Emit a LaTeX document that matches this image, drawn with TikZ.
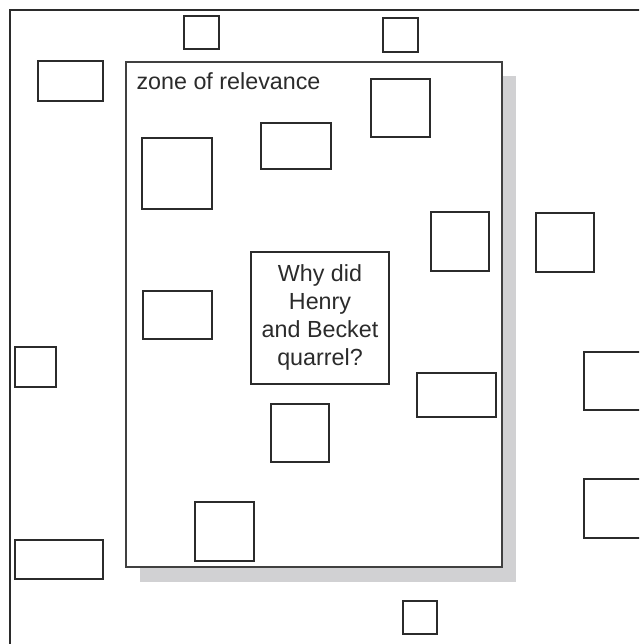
\documentclass[tikz,border=0pt]{standalone}
\usepackage{fontspec}
\setmainfont{Liberation Sans}
\usetikzlibrary{fit}
\definecolor{ink}{HTML}{2B2B2B}
\definecolor{shadowgray}{HTML}{D1D1D3}
\tikzset{
  card/.style={draw=ink, line width=1.6pt, inner sep=0pt, fill=white},
  zone/.style={draw=ink!90, line width=1.2pt, fill=white},
  question/.style={draw=ink, line width=1.9pt, inner sep=0pt, fill=white},
  label/.style={font=\fontsize{23.3}{28}\selectfont, text=ink}
}
\begin{document}
\begin{tikzpicture}[x=1pt, y=-1pt]
\clip (0,0) rectangle (639,644);
\fill[white] (0,0) rectangle (639,644);
% outer frame (runs past the right and bottom edges)
\draw[draw=ink, line width=1.2pt] (10,670) -- (10,10) -- (670,10);
% zone of relevance with its drop shadow
\fill[shadowgray] (140,76) rectangle (516,582);
\node[zone, inner sep=0pt, fit={(126,62)(502,567)}] (zone) {};
\node[label, anchor=base west] (zonelabel) at (133,90) {zone of relevance};
% the central question
\node[question, fit={(251,252)(389,384)}] (q) {};
\node[label, align=center, anchor=center] (qtext) at (320,317)
  {Why did\\Henry\\and Becket\\quarrel?};
% cards inside and outside the zone
\node[card, fit={(184,16)(219,49)}]   (c1) {};
\node[card, fit={(383,18)(418,52)}]   (c2) {};
\node[card, fit={(38,61)(103,101)}]   (c3) {};
\node[card, fit={(142,138)(212,209)}] (c4) {};
\node[card, fit={(261,123)(331,169)}] (c5) {};
\node[card, fit={(371,79)(430,137)}]  (c6) {};
\node[card, fit={(431,212)(489,271)}] (c7) {};
\node[card, fit={(536,213)(594,272)}] (c8) {};
\node[card, fit={(143,291)(212,339)}] (c9) {};
\node[card, fit={(15,347)(56,387)}]   (c10) {};
\node[card, fit={(417,373)(496,417)}] (c11) {};
\node[card, fit={(584,352)(650,410)}] (c12) {};
\node[card, fit={(271,404)(329,462)}] (c13) {};
\node[card, fit={(195,502)(254,561)}] (c14) {};
\node[card, fit={(15,540)(103,579)}]  (c15) {};
\node[card, fit={(584,479)(650,538)}] (c16) {};
\node[card, fit={(403,601)(437,634)}] (c17) {};
\end{tikzpicture}
\end{document}
